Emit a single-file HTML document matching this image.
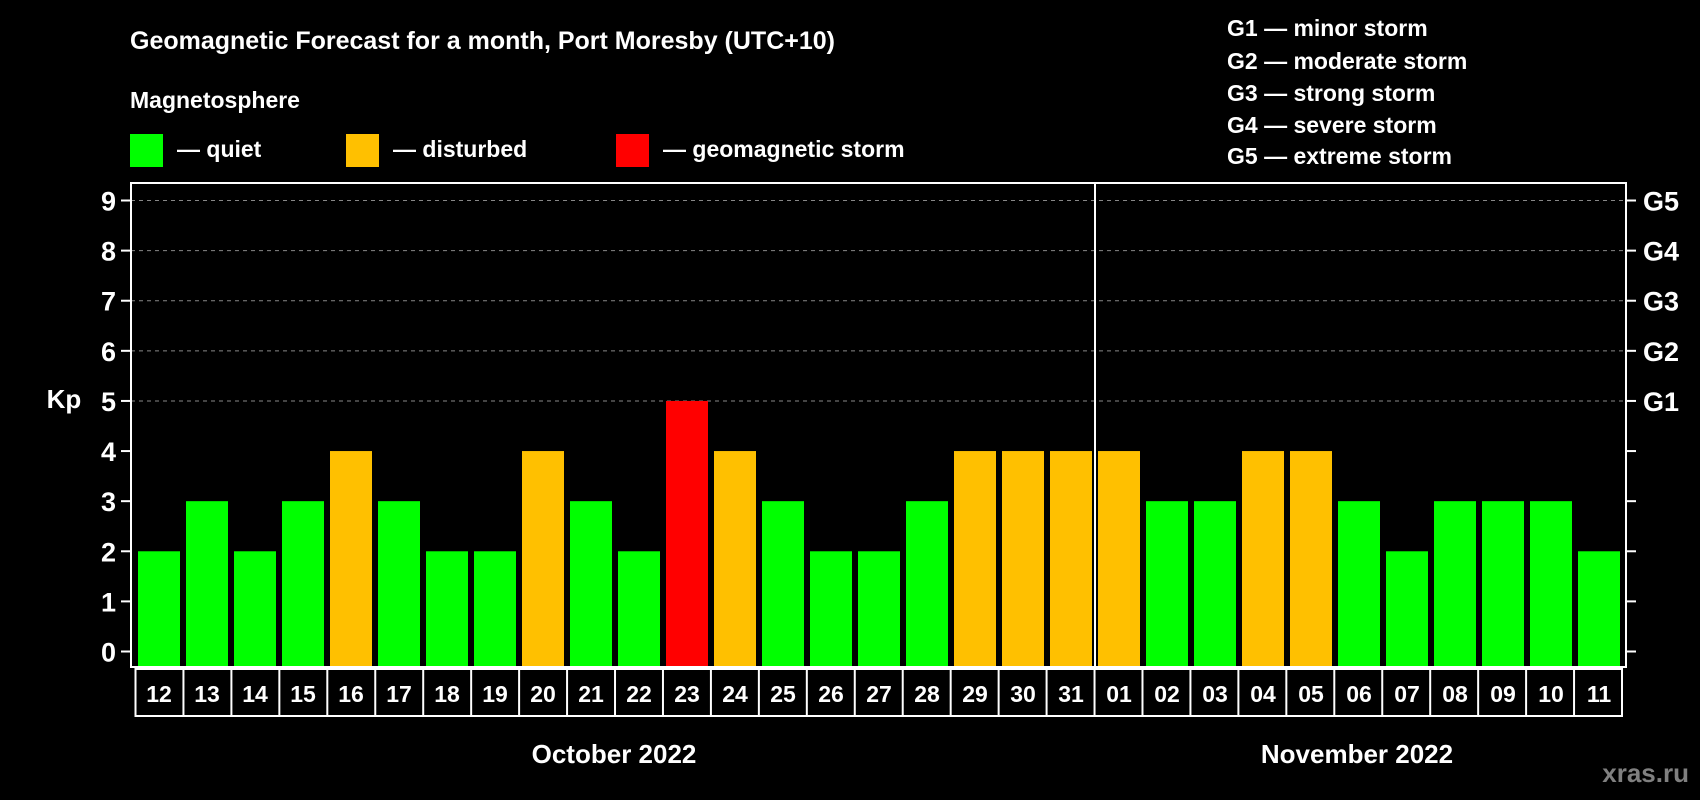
<!DOCTYPE html>
<html><head><meta charset="utf-8"><style>
body{margin:0;background:#000;}
svg{display:block;font-family:"Liberation Sans",Arial,sans-serif;font-weight:bold;}
</style></head><body>
<svg width="1700" height="800" viewBox="0 0 1700 800">
<rect width="1700" height="800" fill="#000"/>
<text x="130" y="49" fill="#fff" font-size="25">Geomagnetic Forecast for a month, Port Moresby (UTC+10)</text>
<text x="130" y="108" fill="#fff" font-size="23">Magnetosphere</text>
<g><rect x="130" y="134" width="33" height="33" fill="#00ff00"/><text x="177" y="157" fill="#fff" font-size="23">— quiet</text></g>
<g><rect x="346" y="134" width="33" height="33" fill="#ffc000"/><text x="393" y="157" fill="#fff" font-size="23">— disturbed</text></g>
<g><rect x="616" y="134" width="33" height="33" fill="#ff0000"/><text x="663" y="157" fill="#fff" font-size="23">— geomagnetic storm</text></g>
<g fill="#fff" font-size="23">
<text x="1227" y="36">G1 — minor storm</text>
<text x="1227" y="69">G2 — moderate storm</text>
<text x="1227" y="101">G3 — strong storm</text>
<text x="1227" y="133">G4 — severe storm</text>
<text x="1227" y="164">G5 — extreme storm</text>
</g>
<text x="64" y="408" fill="#fff" font-size="26" text-anchor="middle">Kp</text>
<g id="grid"></g>
<g id="bars"></g>
<g id="axes"></g>
<text x="614" y="763" fill="#fff" font-size="26" text-anchor="middle">October 2022</text>
<text x="1357" y="763" fill="#fff" font-size="26" text-anchor="middle">November 2022</text>
<text x="1689" y="782" fill="#808080" font-size="26" text-anchor="end">xras.ru</text>
</svg>
<script>
const days=["12","13","14","15","16","17","18","19","20","21","22","23","24","25","26","27","28","29","30","31","01","02","03","04","05","06","07","08","09","10","11"];
const kp=[2,3,2,3,4,3,2,2,4,3,2,5,4,3,2,2,3,4,4,4,4,3,3,4,4,3,2,3,3,3,2];
const yTicks=[0,1,2,3,4,5,6,7,8,9];
const gLabels=["G1","G2","G3","G4","G5"];
const NS="http://www.w3.org/2000/svg";
const L=131,R=1626,T=183,B=667,Y0=651.5,Y9=200.5;
const n=days.length;
const x0=138,barW=42,pitch=(1620-barW-x0)/(n-1);
function yS(v){return Y0+(Y9-Y0)*v/9;}
function xS(i){return x0+i*pitch;}
function mk(tag,attrs,parent){const e=document.createElementNS(NS,tag);for(const k in attrs)e.setAttribute(k,attrs[k]);parent.appendChild(e);return e;}
const grid=document.getElementById('grid'),bars=document.getElementById('bars'),axes=document.getElementById('axes');
yTicks.forEach(v=>{
  if(v>=5){const l=mk('line',{x1:L,x2:R,y1:yS(v),y2:yS(v),stroke:'#888','stroke-dasharray':'4,4','stroke-width':1},grid);
  
  }
  mk('line',{x1:L-10,x2:L,y1:yS(v),y2:yS(v),stroke:'#fff','stroke-width':2},axes);
  mk('line',{x1:R,x2:R+10,y1:yS(v),y2:yS(v),stroke:'#fff','stroke-width':2},axes);
  const t=mk('text',{x:L-15,y:yS(v)+10,fill:'#fff','font-size':27,'text-anchor':'end'},axes);
  t.textContent=v;
  
  
});
gLabels.forEach((g,i)=>{
  const t=mk('text',{x:R+17,y:yS(5+i)+10,fill:'#fff','font-size':27},axes);
  t.textContent=g;
  
  
});
kp.forEach((v,i)=>{
  const c=v>=5?'#ff0000':(v>=4?'#ffc000':'#00ff00');
  const r=mk('rect',{x:xS(i),y:yS(v),width:barW,height:B-1-yS(v),fill:c},bars);
  
  
});
mk('rect',{x:L,y:T,width:R-L,height:B-T,fill:'none',stroke:'#fff','stroke-width':2},axes);
const div=mk('line',{x1:1095,x2:1095,y1:T,y2:B,stroke:'#fff','stroke-width':2},axes);


const bTop=669,bBot=716,bL=135.5,bR=1622,bw=(bR-bL)/n;
mk('rect',{x:bL,y:bTop,width:bR-bL,height:bBot-bTop,fill:'none',stroke:'#fff','stroke-width':2},axes);
days.forEach((d,i)=>{
  if(i>0)mk('line',{x1:bL+i*bw,x2:bL+i*bw,y1:bTop,y2:bBot,stroke:'#fff','stroke-width':2},axes);
  const t=mk('text',{x:xS(i)+barW/2,y:bTop+33,fill:'#fff','font-size':23,'text-anchor':'middle'},axes);
  t.textContent=d;
  
  
});
</script>
</body></html>
